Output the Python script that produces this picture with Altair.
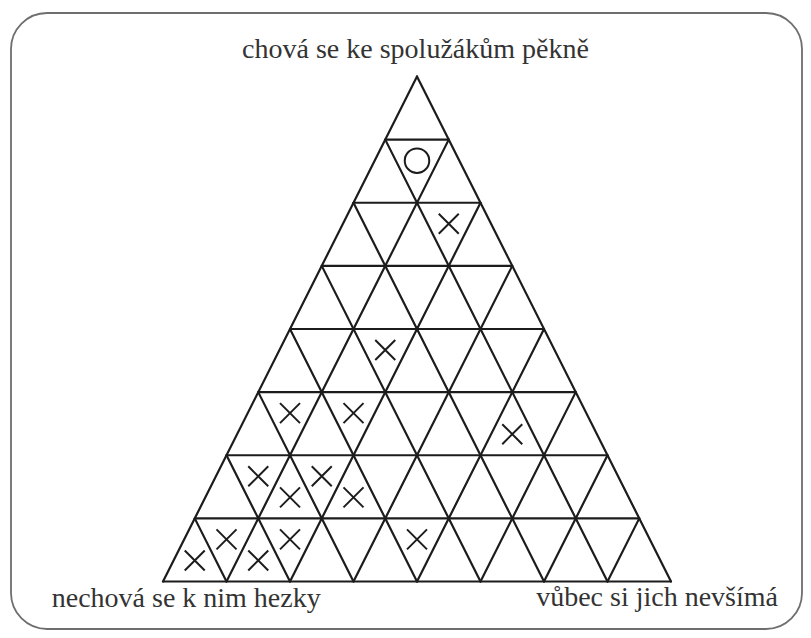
import altair as alt
import pandas as pd

# ---- data -------------------------------------------------------------
N_ROWS = 8  # rows of the triangular grid

# marked cells: row counted from the apex, cell type (up / down triangle), index inside row
cross_rows = [3, 5, 6, 6, 6, 7, 7, 7, 7, 8, 8, 8, 8, 8]
cross_types = ["down", "down", "down", "down", "up",
               "down", "down", "up", "up",
               "up", "down", "up", "down", "down"]
cross_index = [2, 2, 1, 2, 5, 1, 2, 2, 3, 1, 1, 2, 2, 4]

circle_rows = [2]
circle_types = ["down"]
circle_index = [1]

label_top = "chová se ke spolužákům pěkně"
label_left = "nechová se k nim hezky"
label_right = "vůbec si jich nevšímá"

# ---- geometry helpers ---------------------------------------------------
W, H = 795, 622
UX, UY = 63.5, 63.125          # pixels per triangle unit
X0, Y0 = 155.0, 573.5          # view position of base-left corner

x_dom = [-X0 / UX, (W - X0) / UX]
y_dom = [(Y0 - H) / UY, Y0 / UY]


def centroid(r, t, k):
    n = N_ROWS
    if t == "up":
        return n / 2 - r / 2 + k - 0.5, (n - r) + 1 / 3
    return n / 2 - (r - 1) / 2 + k - 0.5, (n - r + 1) - 1 / 3


segs = []
for k in range(N_ROWS):
    segs.append(dict(x=k / 2, y=k, x2=N_ROWS - k / 2, y2=k))
for i in range(N_ROWS):
    segs.append(dict(x=i, y=0, x2=(N_ROWS + i) / 2, y2=N_ROWS - i))
for i in range(1, N_ROWS + 1):
    segs.append(dict(x=i, y=0, x2=i / 2, y2=i))
seg_df = pd.DataFrame(segs)

cross_df = pd.DataFrame(
    [dict(zip(("x", "y"), centroid(r, t, k)))
     for r, t, k in zip(cross_rows, cross_types, cross_index)]
)
circle_df = pd.DataFrame(
    [dict(zip(("x", "y"), centroid(r, t, k)))
     for r, t, k in zip(circle_rows, circle_types, circle_index)]
)

xs = alt.Scale(domain=x_dom, nice=False, zero=False)
ys = alt.Scale(domain=y_dom, nice=False, zero=False)
LINE = "#1c1c1c"

grid = alt.Chart(seg_df).mark_rule(color=LINE, strokeWidth=2.2, strokeCap="round").encode(
    x=alt.X("x:Q", scale=xs, axis=None),
    y=alt.Y("y:Q", scale=ys, axis=None),
    x2="x2:Q",
    y2="y2:Q",
)

crosses = alt.Chart(cross_df).mark_point(
    shape="M-1,-1L1,1M1,-1L-1,1", filled=False, size=400,
    strokeWidth=2.0, color=LINE, opacity=1,
).encode(
    x=alt.X("x:Q", scale=xs, axis=None),
    y=alt.Y("y:Q", scale=ys, axis=None),
)

circles = alt.Chart(circle_df).mark_point(
    shape="circle", filled=False, size=600,
    strokeWidth=2.0, color=LINE, opacity=1,
).encode(
    x=alt.X("x:Q", scale=xs, axis=None),
    y=alt.Y("y:Q", scale=ys, axis=None),
)

border = alt.Chart(alt.Data(values=[{}])).mark_rect(
    filled=False, stroke="#6e6e6e", strokeWidth=1.8, cornerRadius=36,
).encode(
    x=alt.value(3), x2=alt.value(794), y=alt.value(5), y2=alt.value(H - 1),
)

TXT = dict(font="Liberation Serif", fontSize=28, color="#333333", baseline="alphabetic")

t_top = alt.Chart(alt.Data(values=[{"t": label_top}])).mark_text(align="center", **TXT).encode(
    x=alt.value(407.5), y=alt.value(50), text="t:N")
t_left = alt.Chart(alt.Data(values=[{"t": label_left}])).mark_text(align="left", **TXT).encode(
    x=alt.value(43.7), y=alt.value(599), text="t:N")
t_right = alt.Chart(alt.Data(values=[{"t": label_right}])).mark_text(align="right", **TXT).encode(
    x=alt.value(770), y=alt.value(598), text="t:N")

chart = alt.layer(border, grid, crosses, circles, t_top, t_left, t_right).properties(
    width=W, height=H, padding=0, autosize=alt.AutoSizeParams(type="none"),
    background="white",
).configure_view(stroke=None)

chart.save("out.html", embed_options={"renderer": "svg", "actions": False})
